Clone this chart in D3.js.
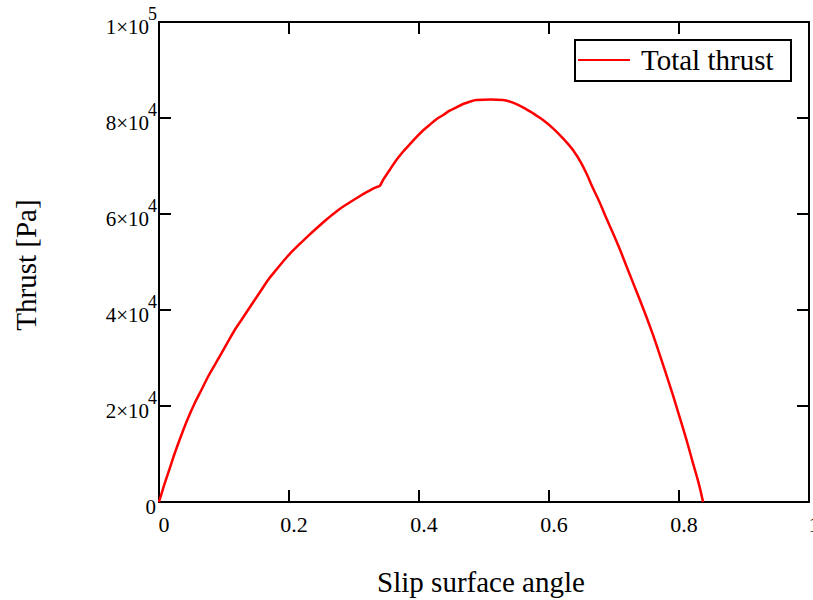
<!DOCTYPE html>
<html>
<head>
<meta charset="utf-8">
<script src="https://cdn.jsdelivr.net/npm/d3@7"></script>
<style>
  body { margin: 0; background: #fff; }
  text { font-family: "Liberation Serif", "Times New Roman", serif; fill: #000; }
</style>
</head>
<body>
<div class="div-chart"></div>
<script>
// slip surface angle vs total thrust
const angle = [0, 0.0088, 0.0165, 0.0242, 0.0345, 0.0446, 0.0549, 0.0652, 0.0754, 0.0857,
  0.096, 0.1062, 0.1165, 0.1268, 0.1369, 0.1472, 0.1575, 0.1677, 0.178, 0.1883,
  0.1985, 0.2138, 0.2292, 0.2446, 0.26, 0.2754, 0.2908, 0.3062, 0.3215, 0.3345,
  0.3395, 0.3446, 0.3549, 0.3652, 0.3754, 0.3857, 0.396, 0.4062, 0.4165, 0.4268,
  0.4372, 0.4472, 0.4575, 0.4678, 0.478, 0.4883, 0.51, 0.5292, 0.5446, 0.56,
  0.5754, 0.5908, 0.6062, 0.6215, 0.6369, 0.6498, 0.6575, 0.6677, 0.678, 0.6883,
  0.6985, 0.7088, 0.719, 0.7292, 0.7395, 0.7498, 0.76, 0.7703, 0.7806, 0.7908,
  0.801, 0.8114, 0.8215, 0.8318, 0.837];
const thrust = [0, 3890, 7020, 10150, 13960, 17430, 20560, 23330, 26100, 28540,
  30980, 33400, 35830, 37920, 40000, 42080, 44170, 46250, 48000, 49700,
  51300, 53400, 55400, 57300, 59100, 60800, 62200, 63500, 64700, 65600,
  65850, 67080, 69170, 71250, 72980, 74500, 76000, 77400, 78600, 79730,
  80630, 81520, 82230, 82920, 83400, 83750, 83850, 83750, 83190, 82230,
  80980, 79580, 77850, 75770, 73330, 70560, 68480, 65350, 62400, 59100,
  55980, 52700, 49200, 45700, 42200, 38600, 34800, 30700, 26500, 22200,
  17700, 13000, 8100, 3100, 0];

const xTicks = [0, 0.2, 0.4, 0.6, 0.8, 1];
const yTicks = [0, 20000, 40000, 60000, 80000, 100000];
const yMantissa = ["0", "2", "4", "6", "8", "1"];
const yExponent = ["", "4", "4", "4", "4", "5"];

const seriesName = "Total thrust";
const xTitle = "Slip surface angle";
const yTitle = "Thrust [Pa]";

const width = 813,
  height = 600;
const margin = { top: 22, right: 4, bottom: 98, left: 159 };

const svg = d3
  .select(".div-chart")
  .append("svg")
  .attr("width", width)
  .attr("height", height)
  .attr("viewBox", `0 0 ${width} ${height}`);

const x = d3.scaleLinear().domain([0, 1]).range([margin.left, width - margin.right]);
const y = d3.scaleLinear().domain([0, 100000]).range([height - margin.bottom, margin.top]);

const x0 = x(0), x1 = x(1), y0 = y(0), y1 = y(100000);
const tickLen = 12;

// ticks pointing into the plot on all four sides
const ticksG = svg.append("g").attr("stroke", "#000").attr("stroke-width", 2);
xTicks.forEach((t) => {
  ticksG.append("line").attr("x1", x(t)).attr("x2", x(t)).attr("y1", y0).attr("y2", y0 - tickLen);
  ticksG.append("line").attr("x1", x(t)).attr("x2", x(t)).attr("y1", y1).attr("y2", y1 + tickLen);
});
yTicks.forEach((t) => {
  ticksG.append("line").attr("x1", x0).attr("x2", x0 + tickLen).attr("y1", y(t)).attr("y2", y(t));
  ticksG.append("line").attr("x1", x1).attr("x2", x1 - tickLen).attr("y1", y(t)).attr("y2", y(t));
});

// frame
svg
  .append("rect")
  .attr("x", x0)
  .attr("y", y1)
  .attr("width", x1 - x0)
  .attr("height", y0 - y1)
  .attr("fill", "none")
  .attr("stroke", "#000")
  .attr("stroke-width", 2);

// x tick labels (the last one sits on the window edge, as in the original)
svg
  .append("g")
  .selectAll("text")
  .data(xTicks)
  .join("text")
  .attr("x", (d) => x(d) + 5)
  .attr("y", y0 + 30)
  .attr("text-anchor", "middle")
  .attr("font-size", 22)
  .text((d) => (d === 0 ? "0" : d3.format("")(d)));

// y tick labels, Mathcad style a×10^b
const yLab = svg
  .append("g")
  .selectAll("text")
  .data(yTicks)
  .join("text")
  .attr("x", 157)
  .attr("y", (d) => y(d) + 12)
  .attr("text-anchor", "end")
  .attr("font-size", 21);
yLab.each(function (d, i) {
  const t = d3.select(this);
  if (d === 0) {
    t.attr("x", 156).text("0");
    return;
  }
  t.append("tspan").text(yMantissa[i] + "\u00d710");
  t.append("tspan").attr("dy", -14).attr("dx", -1).attr("font-size", 18).text(yExponent[i]);
});

// data line
const line = d3
  .line()
  .x((d, i) => x(angle[i]))
  .y((d) => y(d))
  .curve(d3.curveMonotoneX);

svg
  .append("path")
  .datum(thrust)
  .attr("d", line)
  .attr("fill", "none")
  .attr("stroke", "#ff0000")
  .attr("stroke-width", 2.5);

// legend
const legend = svg.append("g").attr("transform", "translate(575,40)");
legend
  .append("rect")
  .attr("width", 216)
  .attr("height", 41)
  .attr("fill", "#fff")
  .attr("stroke", "#000")
  .attr("stroke-width", 2);
legend
  .append("line")
  .attr("x1", 3)
  .attr("x2", 55)
  .attr("y1", 20)
  .attr("y2", 20)
  .attr("stroke", "#ff0000")
  .attr("stroke-width", 2);
legend
  .append("text")
  .attr("x", 66)
  .attr("y", 30)
  .attr("font-size", 29)
  .text(seriesName);

// axis titles
svg
  .append("text")
  .attr("x", 481)
  .attr("y", 592)
  .attr("text-anchor", "middle")
  .attr("font-size", 29)
  .text(xTitle);

svg
  .append("text")
  .attr("transform", "translate(36,265) rotate(-90)")
  .attr("text-anchor", "middle")
  .attr("font-size", 29)
  .text(yTitle);
</script>
</body>
</html>
